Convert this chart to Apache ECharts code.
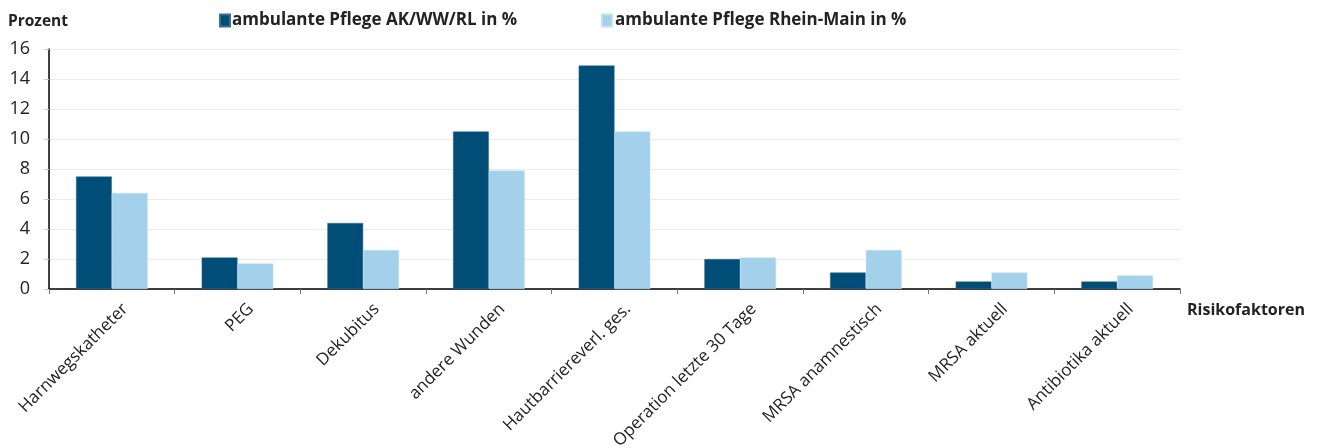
<!DOCTYPE html>
<html>
<head>
<meta charset="utf-8">
<script src="https://cdn.jsdelivr.net/npm/echarts@6/dist/echarts.min.js"></script>
<style>
  html, body { margin: 0; padding: 0; background: #fff; }
  #chart { width: 1318px; height: 448px; }
</style>
</head>
<body>
<div id="chart"></div>
<script>
  // Risikofaktoren
  var categories = ['Harnwegskatheter', 'PEG', 'Dekubitus', 'andere Wunden', 'Hautbarriereverl. ges.',
    'Operation letzte 30 Tage', 'MRSA anamnestisch', 'MRSA aktuell', 'Antibiotika aktuell']
  var seriesNames = ['ambulante Pflege AK/WW/RL in %', 'ambulante Pflege Rhein-Main in %']
  var valuesAK = [7.5, 2.1, 4.4, 10.5, 14.9, 2.0, 1.1, 0.5, 0.5]
  var valuesRM = [6.4, 1.7, 2.6, 7.9, 10.5, 2.1, 2.6, 1.1, 0.9]
  var yTicks = [0, 2, 4, 6, 8, 10, 12, 14, 16]

  var font = '"Open Sans", "Noto Sans", sans-serif'
  var chart = echarts.init(document.getElementById('chart'))

  chart.setOption({
    textStyle: { fontFamily: font },
    title: [
      {
        text: 'Prozent',
        left: 8, top: 14, padding: 0,
        textStyle: { fontSize: 15.5, fontWeight: 'bold', color: '#222', fontFamily: font }
      },
      {
        text: 'Risikofaktoren',
        left: 1187, top: 302, padding: 0,
        textStyle: { fontSize: 16, fontWeight: 'bold', color: '#222', fontFamily: font }
      }
    ],
    legend: [
      {
        data: [seriesNames[0]],
        left: 219, top: 12, padding: 0,
        itemWidth: 10, itemHeight: 12,
        icon: 'rect',
        textStyle: { fontSize: 17, fontWeight: 'bold', color: '#222', padding: [0, 0, 0, -3] }
      },
      {
        data: [seriesNames[1]],
        left: 601, top: 12, padding: 0,
        itemWidth: 10, itemHeight: 12,
        icon: 'rect',
        textStyle: { fontSize: 17, fontWeight: 'bold', color: '#222', padding: [0, 0, 0, -2] }
      }
    ],
    grid: { left: 49, right: 138, top: 49, bottom: 159, containLabel: false, outerBoundsMode: 'none' },
    xAxis: {
      type: 'category',
      data: categories,
      axisLine: { lineStyle: { color: '#000', width: 1.5 } },
      axisTick: { show: true, length: 5, lineStyle: { color: '#777' } },
      axisLabel: {
        rotate: 45,
        interval: 0,
        margin: 4,
        verticalAlign: 'top',
        lineHeight: 38,
        fontSize: 17,
        color: '#222'
      }
    },
    yAxis: {
      type: 'value',
      min: 0, max: 16, interval: 2,
      axisLine: { show: true, lineStyle: { color: '#000', width: 1.5 } },
      axisTick: { show: true, length: 5, lineStyle: { color: '#ccc' } },
      axisLabel: {
        fontSize: 18, color: '#222', margin: 19,
        formatter: function (v) { return yTicks.indexOf(v) >= 0 ? String(v) : '' }
      },
      splitLine: { lineStyle: { color: '#ebebeb', width: 1 } }
    },
    series: [
      {
        name: seriesNames[0],
        type: 'bar',
        data: valuesAK,
        barGap: '0%',
        barCategoryGap: '43%',
        itemStyle: { color: '#004d78', borderColor: '#3a6f90', borderWidth: 0.5 }
      },
      {
        name: seriesNames[1],
        type: 'bar',
        data: valuesRM,
        itemStyle: { color: '#a3d0ea', borderColor: '#c3e0f1', borderWidth: 0.5 }
      }
    ]
  })
</script>
</body>
</html>
